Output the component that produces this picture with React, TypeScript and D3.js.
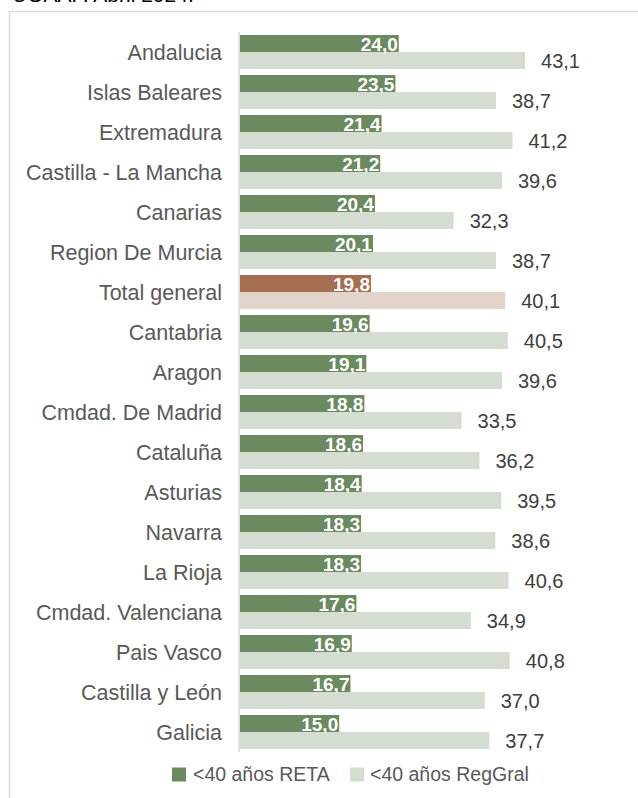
import React from 'react';
import * as d3 from 'd3';

// the data of the chart
const categories = [
  'Andalucia',
  'Islas Baleares',
  'Extremadura',
  'Castilla - La Mancha',
  'Canarias',
  'Region De Murcia',
  'Total general',
  'Cantabria',
  'Aragon',
  'Cmdad. De Madrid',
  'Cataluña',
  'Asturias',
  'Navarra',
  'La Rioja',
  'Cmdad. Valenciana',
  'Pais Vasco',
  'Castilla y León',
  'Galicia',
];
const retaValues = [
  24.0, 23.5, 21.4, 21.2, 20.4, 20.1, 19.8, 19.6, 19.1, 18.8, 18.6, 18.4, 18.3,
  18.3, 17.6, 16.9, 16.7, 15.0,
];
const regGralValues = [
  43.1, 38.7, 41.2, 39.6, 32.3, 38.7, 40.1, 40.5, 39.6, 33.5, 36.2, 39.5, 38.6,
  40.6, 34.9, 40.8, 37.0, 37.7,
];
const seriesNames = ['<40 años RETA', '<40 años RegGral'];
const highlight = 'Total general';
const title = 'UOAAP. Abril 2024.';

const W = 638;
const H = 798;
const FONT = '"Liberation Sans", Arial, sans-serif';

const DARK = '#6B8A5F';
const LIGHT = '#D5DDD2';
const DARK_HI = '#A66F52';
const LIGHT_HI = '#E3D4CB';

const fmt = (v: number) => v.toFixed(1).replace('.', ',');

const App = () => {
  const left = 240;
  const x = d3.scaleLinear().domain([0, 50]).range([left, 570.7]);
  const y = d3
    .scaleBand<string>()
    .domain(categories)
    .range([32, 752])
    .paddingInner(0.15)
    .paddingOuter(0.075);
  const half = y.bandwidth() / 2;

  return (
    <svg
      width={W}
      height={H}
      style={{ position: 'absolute', top: 0, left: 0, background: '#fff' }}
      fontFamily={FONT}
    >
      {/* the title is cut off at the top of the picture, like in the original */}
      <text x={12} y={2} fontSize={21} fill="#000">
        {title}
      </text>
      <rect
        x={9.5}
        y={11.5}
        width={800}
        height={900}
        fill="none"
        stroke="#d9d9d9"
        strokeWidth={1.5}
      />
      <defs>
        {categories.map((c, i) => (
          <clipPath id={`clip-${i}`} key={c}>
            <rect
              x={x(0)}
              y={y(c)! - 2}
              width={x(retaValues[i]) - x(0)}
              height={half + 3}
            />
          </clipPath>
        ))}
      </defs>
      {categories.map((c, i) => {
        const top = y(c)!;
        const hi = c === highlight;
        return (
          <g key={c}>
            <text
              x={left - 18}
              y={top + half + 7.5}
              textAnchor="end"
              fontSize={21.5}
              fill="#595959"
            >
              {c}
            </text>
            <rect
              x={x(0)}
              y={top}
              width={x(retaValues[i]) - x(0)}
              height={half}
              fill={hi ? DARK_HI : DARK}
            />
            <rect
              x={x(0)}
              y={top + half}
              width={x(regGralValues[i]) - x(0)}
              height={half}
              fill={hi ? LIGHT_HI : LIGHT}
            />
            <text
              x={x(retaValues[i]) - 1}
              y={top + half - 1}
              textAnchor="end"
              fontSize={19}
              fontWeight="bold"
              fill="#fff"
              clipPath={`url(#clip-${i})`}
            >
              {fmt(retaValues[i])}
            </text>
            <text
              x={x(regGralValues[i]) + 16}
              y={top + half * 1.5 + 7.5}
              fontSize={20}
              fill="#404040"
            >
              {fmt(regGralValues[i])}
            </text>
          </g>
        );
      })}
      <line
        x1={left - 1}
        x2={left - 1}
        y1={32}
        y2={752}
        stroke="#d9d9d9"
        strokeWidth={1.5}
      />
      {/* legend */}
      <g>
        <rect x={172} y={767.5} width={14} height={14} fill={DARK} />
        <text x={193} y={781} fontSize={19.5} fill="#595959">
          {seriesNames[0]}
        </text>
        <rect x={350} y={767.5} width={14} height={14} fill={LIGHT} />
        <text x={370} y={781} fontSize={19.5} fill="#595959">
          {seriesNames[1]}
        </text>
      </g>
    </svg>
  );
};

export default App;
